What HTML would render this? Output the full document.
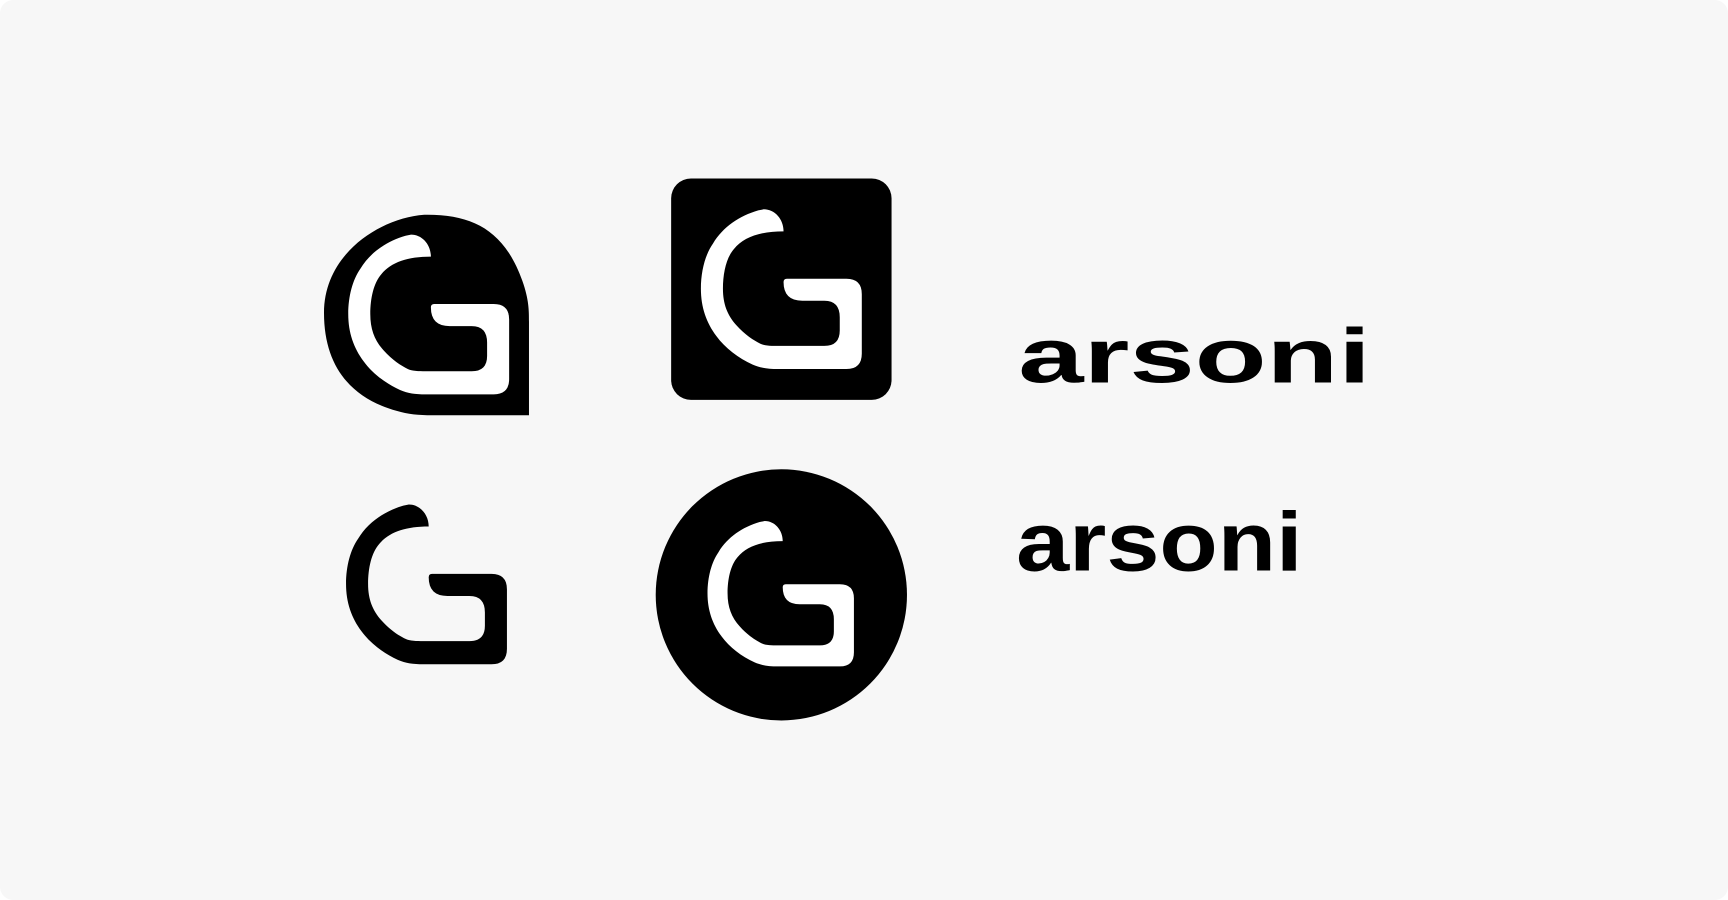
<!DOCTYPE html>
<html><head><meta charset="utf-8"><style>
html,body{margin:0;padding:0;background:#fff;width:1728px;height:900px;overflow:hidden}
svg{display:block}
</style></head><body>
<svg width="1728" height="900" viewBox="0 0 1568 817" preserveAspectRatio="none" xmlns="http://www.w3.org/2000/svg">
<defs>
<path id="g" d="M693 190 C703 190 711 199 711 210 C690 210 675 215 666 226 C659 234 656 248 656 262 C656 276 660 286 668 295 C676 304 684 309 690 312 C694 314 700 314 706 314 L748 314 Q762 314 762 300 L762 288 Q762 273 748 273 L728 273 Q711 273 711 256 Q711 253 714 253 L768 253 Q782 253 782 267 L782 321 Q782 335 768 335 L706 335 C697 335 690 334 683 331 C670 325 658 316 650 305 C641 293 636 279 636 262 C636 246 640 231 647 221 C656 206 671 196 688 191 Z"/>
</defs>
<rect x="0" y="0" width="1568" height="817" rx="12" fill="#f7f7f7"/>
<g>
<path d="M388 195 C430 195 458 210 474 255 C480 272 480 282 480 292 L480 377 L392 377 C380 377 370 376 360 373 C320 362 294 334 294 284 C294 230 345 198 385 195 Z" fill="#000"/>
<use href="#g" transform="translate(-320,23)" fill="#fff"/>
</g>
<g>
<rect x="609" y="162" width="200" height="201" rx="18" fill="#000"/>
<use href="#g" fill="#fff"/>
</g>
<g>
<use href="#g" transform="translate(-322,268)" fill="#000"/>
</g>
<g>
<circle cx="709" cy="540" r="114" fill="#000"/>
<use href="#g" transform="translate(642,473) scale(0.91) translate(-636,-190)" fill="#fff"/>
</g>
<text x="924" y="347" font-family="Liberation Sans, sans-serif" font-weight="bold" font-size="70" textLength="320" lengthAdjust="spacingAndGlyphs" fill="#000">arsoni</text>
<text x="922" y="518" font-family="Liberation Sans, sans-serif" font-weight="bold" font-size="76" textLength="260" lengthAdjust="spacingAndGlyphs" fill="#000">arsoni</text>
</svg>
</body></html>
